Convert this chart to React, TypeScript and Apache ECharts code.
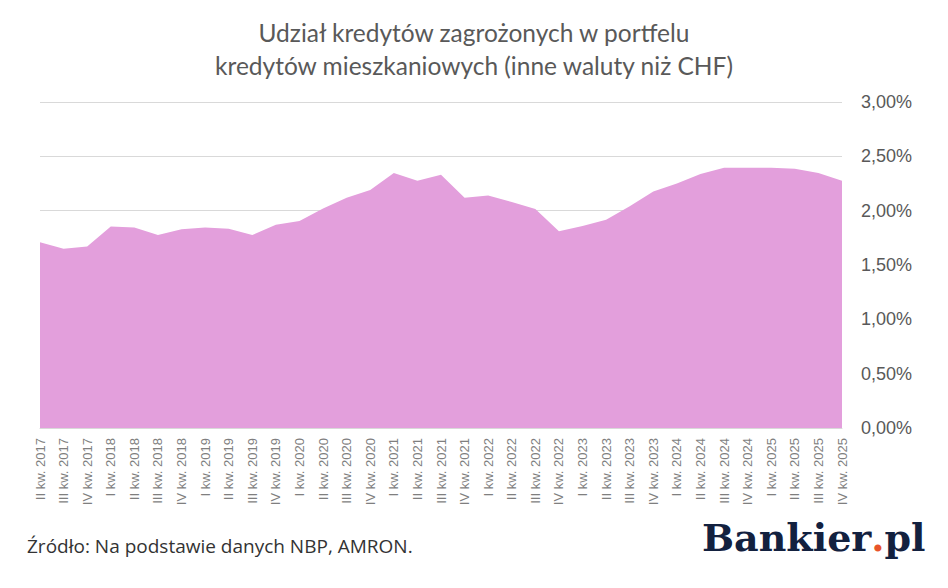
import React, { useEffect, useRef } from "react";
import * as echarts from "echarts";

const categories: string[] = [
  "II kw. 2017", "III kw. 2017", "IV kw. 2017",
  "I kw. 2018", "II kw. 2018", "III kw. 2018", "IV kw. 2018",
  "I kw. 2019", "II kw. 2019", "III kw. 2019", "IV kw. 2019",
  "I kw. 2020", "II kw. 2020", "III kw. 2020", "IV kw. 2020",
  "I kw. 2021", "II kw. 2021", "III kw. 2021", "IV kw. 2021",
  "I kw. 2022", "II kw. 2022", "III kw. 2022", "IV kw. 2022",
  "I kw. 2023", "II kw. 2023", "III kw. 2023", "IV kw. 2023",
  "I kw. 2024", "II kw. 2024", "III kw. 2024", "IV kw. 2024",
  "I kw. 2025", "II kw. 2025", "III kw. 2025", "IV kw. 2025",
];

const shareValues: number[] = [
  1.71, 1.65, 1.67,
  1.855, 1.846, 1.775, 1.83,
  1.846, 1.834, 1.775, 1.87,
  1.904, 2.02, 2.12, 2.19,
  2.346, 2.275, 2.33, 2.12,
  2.14, 2.08, 2.015, 1.81,
  1.858, 1.916, 2.04, 2.177,
  2.25, 2.337, 2.395, 2.395,
  2.395, 2.386, 2.346, 2.275,
];

const yTicks = { min: 0, max: 3, interval: 0.5 };

const titleLines = [
  "Udział kredytów zagrożonych w portfelu",
  "kredytów mieszkaniowych (inne waluty niż CHF)",
];
const sourceText = "Źródło: Na podstawie danych NBP, AMRON.";

export default function App() {
  const ref = useRef<HTMLDivElement>(null);
  useEffect(() => {
    if (!ref.current) return;
    const chart = echarts.init(ref.current, undefined, { renderer: "svg" });
    chart.setOption({
      animation: false,
      backgroundColor: "#ffffff",
      title: {
        text: titleLines.join("\n"),
        left: "center",
        top: 11,
        textStyle: {
          fontFamily: "Lato",
          fontWeight: "normal",
          fontSize: 24.5,
          lineHeight: 33,
          color: "#595959",
        },
      },
      grid: { left: 40, right: 106, top: 102, bottom: 160 },
      xAxis: {
        type: "category",
        data: categories,
        boundaryGap: false,
        axisLine: { show: true, lineStyle: { color: "#d9d9d9" } },
        axisTick: { show: false },
        axisLabel: {
          rotate: 90,
          interval: 0,
          margin: 10,
          fontFamily: "Liberation Sans",
          fontSize: 13,
          color: "#7f7f7f",
        },
        splitLine: { show: false },
      },
      yAxis: {
        type: "value",
        position: "right",
        min: yTicks.min,
        max: yTicks.max,
        interval: yTicks.interval,
        axisLine: { show: false },
        axisTick: { show: false },
        axisLabel: {
          margin: 19,
          fontFamily: "Liberation Sans",
          fontSize: 18,
          color: "#595959",
          formatter: (v: number) => v.toFixed(2).replace(".", ",") + "%",
        },
        splitLine: { show: true, lineStyle: { color: "#d9d9d9", width: 1 } },
      },
      series: [
        {
          type: "line",
          data: shareValues,
          symbol: "none",
          lineStyle: { width: 0 },
          itemStyle: { color: "#e39fdc" },
          areaStyle: { color: "#e39fdc", opacity: 1 },
          z: 3,
        },
      ],
      graphic: [
        {
          type: "text",
          left: 27,
          top: 536,
          style: {
            text: sourceText,
            fontFamily: "Open Sans",
            fontSize: 19,
            fill: "#333333",
          },
        },
        {
          type: "text",
          left: 702,
          top: 518,
          style: {
            text: "{a|Bankier}{b|.}{a|pl}",
            rich: {
              a: {
                fontFamily: "DejaVu Serif",
                fontWeight: "bold",
                fontSize: 38,
                fill: "#13213f",
              },
              b: {
                fontFamily: "DejaVu Serif",
                fontWeight: "bold",
                fontSize: 38,
                fill: "#e8542a",
              },
            },
          },
        },
      ],
    });
    return () => chart.dispose();
  }, []);
  return (
    <div
      ref={ref}
      style={{ position: "fixed", left: 0, top: 0, width: 948, height: 588 }}
    />
  );
}
